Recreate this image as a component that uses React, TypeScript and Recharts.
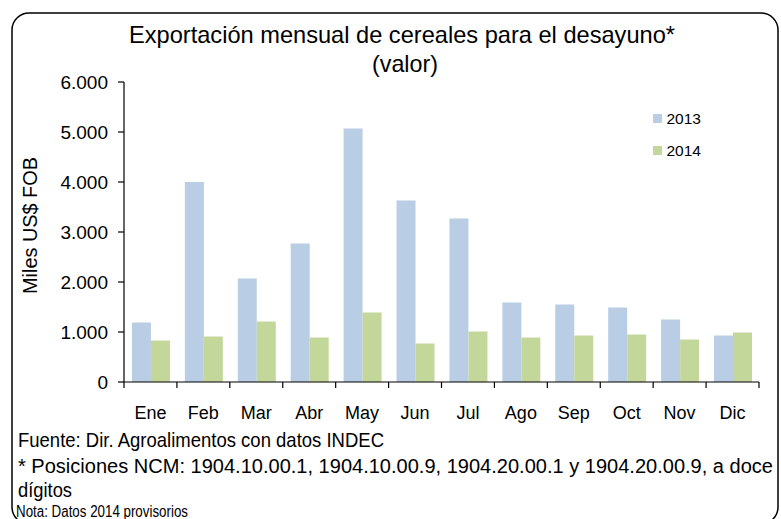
import React from 'react';
import { BarChart, Bar, XAxis, YAxis, Legend } from 'recharts';

const months = ['Ene', 'Feb', 'Mar', 'Abr', 'May', 'Jun', 'Jul', 'Ago', 'Sep', 'Oct', 'Nov', 'Dic'];
const values2013 = [1190, 4000, 2070, 2770, 5070, 3630, 3270, 1590, 1550, 1490, 1250, 930];
const values2014 = [830, 910, 1210, 890, 1390, 770, 1010, 890, 930, 950, 850, 990];
const yTicks = [0, 1000, 2000, 3000, 4000, 5000, 6000];

const titleLines = ['Exportación mensual de cereales para el desayuno*', '(valor)'];
const footLines = [
  'Fuente: Dir. Agroalimentos con datos INDEC',
  '* Posiciones NCM:  1904.10.00.1, 1904.10.00.9, 1904.20.00.1 y 1904.20.00.9, a doce',
  'dígitos',
];
const noteLine = 'Nota: Datos 2014 provisorios';

const data = months.map((m, i) => ({ month: m, y2013: values2013[i], y2014: values2014[i] }));

const FONT = '"Liberation Sans", Arial, Helvetica, sans-serif';
const C2013 = '#B9CDE5';
const C2014 = '#C4D79B';

const fmt = (v: number) => {
  if (v === 0) return '0';
  const s = String(v);
  return s.replace(/\B(?=(\d{3})+(?!\d))/g, '.');
};

const XTick = (props: any) => {
  const { x, y, payload, index } = props;
  const off = payload && typeof payload.offset === 'number' ? payload.offset : 26.46;
  return (
    <g>
      <line x1={x - off} y1={y} x2={x - off} y2={y + 6} stroke="#000" strokeWidth={1.2} />
      {index === months.length - 1 && (
        <line x1={x + off} y1={y} x2={x + off} y2={y + 6} stroke="#000" strokeWidth={1.2} />
      )}
      <text x={x} y={y + 37} textAnchor="middle" fontSize={18} fontFamily={FONT} fill="#000">
        {payload.value}
      </text>
    </g>
  );
};

const YLabel = (props: any) => {
  const vb = props.viewBox || { x: 14, y: 82, width: 110, height: 300 };
  const cx = vb.x + 23;
  const cy = vb.y + vb.height / 2 - 6.5;
  return (
    <text
      x={cx}
      y={cy}
      transform={`rotate(-90 ${cx} ${cy})`}
      textAnchor="middle"
      fontSize={20}
      fontFamily={FONT}
      fill="#000"
      textLength={137}
      lengthAdjust="spacingAndGlyphs"
    >
      Miles US$ FOB
    </text>
  );
};

const LegendContent = () => {
  const items = [
    { label: '2013', color: C2013 },
    { label: '2014', color: C2014 },
  ];
  return (
    <div style={{ fontFamily: FONT, fontSize: 15.5, color: '#000' }}>
      {items.map((it) => (
        <div key={it.label} style={{ display: 'flex', alignItems: 'center', height: 32 }}>
          <span style={{ display: 'inline-block', width: 8.5, height: 8.5, background: it.color, marginRight: 5 }} />
          <span>{it.label}</span>
        </div>
      ))}
    </div>
  );
};

export default function App() {
  return (
    <div style={{ position: 'absolute', left: 0, top: 0, width: 781, height: 519, overflow: 'hidden', background: '#fff' }}>
      <BarChart
        width={781}
        height={519}
        data={data}
        margin={{ top: 82, right: 22, bottom: 107, left: 14 }}
        barCategoryGap="15%"
        barGap={0}
      >
        <XAxis
          xAxisId="top"
          orientation="top"
          dataKey="month"
          height={0}
          tick={false}
          tickLine={false}
          axisLine={{ stroke: '#8c8c8c', strokeWidth: 1.2 }}
        />
        <YAxis
          yAxisId="right"
          orientation="right"
          width={0}
          domain={[0, 6000]}
          tick={false}
          tickLine={false}
          axisLine={{ stroke: '#8c8c8c', strokeWidth: 1.2 }}
        />
        <XAxis
          dataKey="month"
          height={30}
          tickLine={false}
          tickSize={0}
          tickMargin={0}
          tick={<XTick />}
          interval={0}
          axisLine={{ stroke: '#000', strokeWidth: 1.2 }}
        />
        <YAxis
          width={110}
          domain={[0, 6000]}
          ticks={yTicks}
          tickFormatter={fmt}
          interval={0}
          tickSize={6}
          tickMargin={10}
          tick={{ fontSize: 19, fontFamily: FONT, fill: '#000' }}
          tickLine={{ stroke: '#000', strokeWidth: 1.2 }}
          axisLine={{ stroke: '#000', strokeWidth: 1.2 }}
          label={<YLabel />}
        />
        <Legend
          layout="vertical"
          align="center"
          verticalAlign="middle"
          content={<LegendContent />}
          wrapperStyle={{ left: 653, top: 102.5, width: 70, height: 64 }}
        />
        <Bar dataKey="y2013" name="2013" fill={C2013} isAnimationActive={false} />
        <Bar dataKey="y2014" name="2014" fill={C2014} isAnimationActive={false} />
      </BarChart>
      <svg
        width={781}
        height={519}
        style={{ position: 'absolute', left: 0, top: 0, pointerEvents: 'none' }}
      >
        <rect x={12} y={13} width={766} height={511} rx={17} ry={17} fill="none" stroke="#000" strokeWidth={1.5} />
        <text x={402} y={43} textAnchor="middle" fontSize={24} fontFamily={FONT} fill="#000" textLength={546} lengthAdjust="spacingAndGlyphs">
          {titleLines[0]}
        </text>
        <text x={405} y={72} textAnchor="middle" fontSize={24} fontFamily={FONT} fill="#000" textLength={66} lengthAdjust="spacingAndGlyphs">
          {titleLines[1]}
        </text>
        <text x={18} y={447} fontSize={21} fontFamily={FONT} fill="#000" textLength={366} lengthAdjust="spacingAndGlyphs">
          {footLines[0]}
        </text>
        <g transform="translate(18 473) scale(1 1.2)">
          <text x={0} y={0} fontSize={17.5} fontFamily={FONT} fill="#000" textLength={755} lengthAdjust="spacingAndGlyphs">
            {footLines[1]}
          </text>
        </g>
        <text x={18} y={497} fontSize={21} fontFamily={FONT} fill="#000" textLength={54} lengthAdjust="spacingAndGlyphs">
          {footLines[2]}
        </text>
        <text x={16} y={516.5} fontSize={16} fontFamily={FONT} fill="#000" textLength={172} lengthAdjust="spacingAndGlyphs">
          {noteLine}
        </text>
      </svg>
    </div>
  );
}
